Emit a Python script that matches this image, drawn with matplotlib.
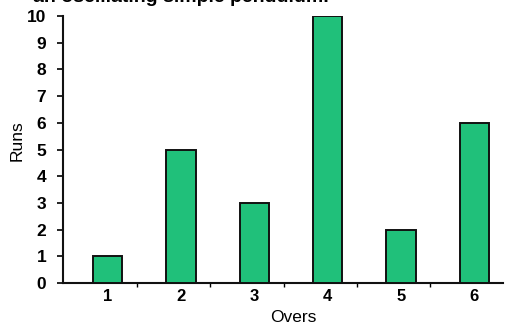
import matplotlib
matplotlib.use("Agg")
import matplotlib.pyplot as plt
from matplotlib.ticker import FixedLocator

overs = [1, 2, 3, 4, 5, 6]
runs = [1, 5, 3, 10, 2, 6]
yticks = list(range(0, 11))

plt.rcParams['font.family'] = ['Liberation Sans', 'DejaVu Sans']

fig = plt.figure(figsize=(5.06, 3.28), dpi=100)
ax = fig.add_axes([63/506, 45/328, 440/506, 267/328])

ax.bar(overs, runs, width=0.4, color='#20c07a', edgecolor='#111111', linewidth=1.4, zorder=3)

ax.set_xlim(0.39, 6.39)
ax.set_ylim(0, 10)
ax.set_yticks(yticks)
ax.set_xticks(overs)
ax.xaxis.set_minor_locator(FixedLocator([o + 0.4 for o in overs[:-1]]))
ax.tick_params(axis='x', which='major', length=0, pad=4, labelsize=12)
ax.tick_params(axis='x', which='minor', length=3, width=1, direction='out')
ax.tick_params(axis='y', which='major', length=4, width=1.2, direction='out', pad=8, labelsize=12.5)
for lbl in ax.get_xticklabels() + ax.get_yticklabels():
    lbl.set_fontweight('bold')

for s in ['top', 'right']:
    ax.spines[s].set_visible(False)
for s in ['left', 'bottom']:
    ax.spines[s].set_linewidth(1.5)
    ax.spines[s].set_color('#111111')

fig.text(293/506, 10/328, 'Overs', ha='center', va='center', fontsize=12.5)
fig.text(17/506, 1 - 141/328, 'Runs', ha='center', va='center', rotation=90, fontsize=12.5)
fig.text(33/506, 1.0 + 2/328, 'an oscillating simple pendulum.', ha='left', va='center',
         fontsize=14, fontweight='bold')

fig.savefig('out.png', dpi=100)
